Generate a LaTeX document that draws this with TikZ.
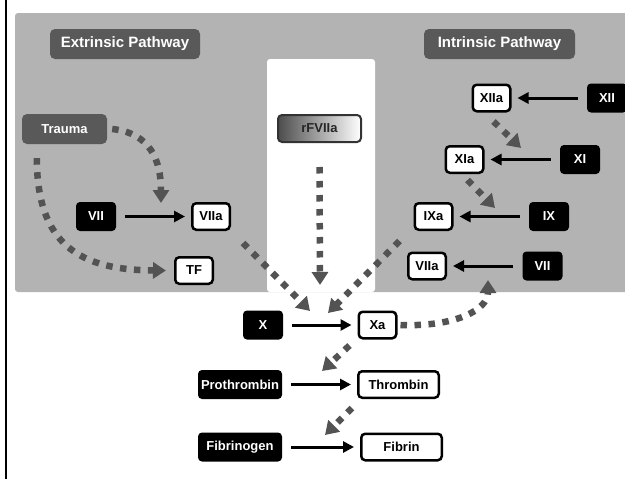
\documentclass[tikz,border=0pt]{standalone}
\usepackage{fontspec}
\setmainfont{Liberation Sans}
\usetikzlibrary{arrows.meta}

\definecolor{panelgray}{HTML}{B3B3B3}
\definecolor{headgray}{HTML}{595959}
\definecolor{dotgray}{HTML}{535353}

\begin{document}
\begin{tikzpicture}[x=1pt, y=-1pt,
    heading/.style={fill=headgray, text=white, rounded corners=5pt,
        minimum width=150pt, minimum height=30pt, inner sep=2pt,
        font=\fontsize{15}{17}\selectfont\bfseries},
    zymogen/.style={fill=black, text=white, rounded corners=4pt,
        minimum width=40pt, minimum height=29pt, inner sep=2pt,
        font=\fontsize{13}{15}\selectfont\bfseries},
    enzyme/.style={draw=black, line width=2.5pt, fill=white, text=black,
        rounded corners=4pt, minimum width=37.5pt, minimum height=26.5pt,
        inner sep=2pt, font=\fontsize{13}{15}\selectfont\bfseries},
    convert/.style={-{Triangle[length=11pt,width=11pt]}, line width=3pt,
        shorten <=9pt, shorten >=6pt},
    trigger/.style={-{Triangle[length=13pt,width=16pt]}, draw=dotgray,
        line width=6.5pt, dash pattern=on 6.5pt off 7.5pt}]

    \useasboundingbox (0,0) rectangle (625,479);

    % Frame line and grey panel with the white cut-out
    \draw[line width=2pt] (6,0) -- (6,479);
    \fill[panelgray, rounded corners=3pt] (15,13) rectangle (640,292);
    \fill[white, rounded corners=3pt] (267,292) -- (267,59) -- (375,59) -- (375,292) -- cycle;

    % Pathway headings
    \node[heading] (extr) at (125,44) {Extrinsic Pathway};
    \node[heading, minimum width=151pt] (intr) at (499.5,44) {Intrinsic Pathway};

    % Extrinsic pathway
    \node[heading, minimum width=85pt, font=\fontsize{13}{15}\selectfont\bfseries] (trauma) at (64.5,129) {Trauma};
    \node[zymogen] (vii1) at (96,216.5) {VII};
    \node[enzyme] (viia1) at (211,216.5) {VIIa};
    \node[enzyme] (tf) at (194,270.5) {TF};

    % Recombinant factor
    \node[draw=black!80, line width=2pt, left color=black!70, right color=white,
        rounded corners=4pt, minimum width=83pt, minimum height=27pt,
        font=\fontsize{13}{15}\selectfont\bfseries, text=black!85] (rf) at (319.5,128.5) {rFVIIa};

    % Intrinsic pathway
    \node[enzyme] (xiia) at (491.5,98) {XIIa};
    \node[zymogen] (xii) at (607,98) {XII};
    \node[enzyme] (xia) at (464.5,159.5) {XIa};
    \node[zymogen] (xi) at (580,159.5) {XI};
    \node[enzyme] (ixa) at (433.5,216.5) {IXa};
    \node[zymogen] (ix) at (549,216.5) {IX};
    \node[enzyme] (viia2) at (427,266) {VIIa};
    \node[zymogen] (vii2) at (542.5,266) {VII};

    % Common pathway
    \node[zymogen] (x) at (263,325) {X};
    \node[enzyme] (xa) at (377.5,325) {Xa};
    \node[zymogen, minimum width=84pt] (pro) at (240,384.5) {Prothrombin};
    \node[enzyme, minimum width=80.5pt] (thr) at (398.5,384.5) {Thrombin};
    \node[zymogen, minimum width=84pt] (fbg) at (240,447) {Fibrinogen};
    \node[enzyme, minimum width=80.5pt] (fbn) at (401.5,447) {Fibrin};

    % Conversions
    \draw[convert] (vii1) -- (viia1);
    \draw[convert] (xii) -- (xiia);
    \draw[convert] (xi) -- (xia);
    \draw[convert] (ix) -- (ixa);
    \draw[convert] (vii2) -- (viia2);
    \draw[convert] (x) -- (xa);
    \draw[convert] (pro) -- (thr);
    \draw[convert] (fbg) -- (fbn);

    % Points on the conversion arrows hit by the triggers
    \coordinate (hitvii) at (161,203);
    \coordinate (hitxi) at (521,148);
    \coordinate (hitix) at (495,208);
    \coordinate (hitviib) at (488,280);
    \coordinate (hitxa) at (310,311);
    \coordinate (hitxb) at (320,285);
    \coordinate (hitxc) at (328,313);
    \coordinate (hitpro) at (322,371);
    \coordinate (hitfbg) at (325,435);

    % Dotted triggers
    \draw[trigger] ([xshift=5pt]trauma.east) .. controls (150,133) and (161,160) .. (hitvii);
    \draw[trigger] ([shift={(15pt,-14pt)}]trauma.south west) .. controls (37,245) and (80,270) .. ([xshift=-8pt]tf.west);
    \draw[trigger] ([shift={(2pt,-9pt)}]xiia.south) -- (hitxi);
    \draw[trigger] ([shift={(3pt,-6pt)}]xia.south) -- (hitix);
    \draw[trigger] ([shift={(12pt,-12pt)}]viia1.south east) -- (hitxa);
    \draw[trigger] ([yshift=-24pt]rf.south) -- (hitxb);
    \draw[trigger] ([shift={(-14pt,-10pt)}]ixa.south west) -- (hitxc);
    \draw[trigger] ([xshift=3pt]xa.east) .. controls (455,327) and (488,310) .. (hitviib);
    \draw[trigger] ([shift={(-8pt,-6pt)}]xa.south west) -- (hitpro);
    \draw[trigger] ([shift={(-5pt,-9pt)}]thr.south west) -- (hitfbg);

\end{tikzpicture}
\end{document}
